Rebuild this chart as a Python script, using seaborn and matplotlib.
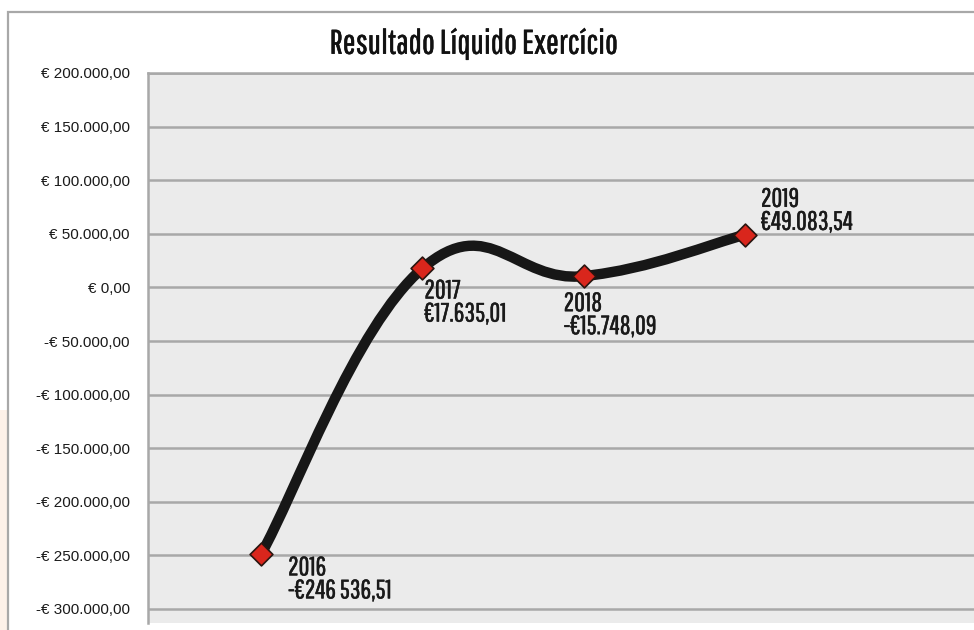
import matplotlib
matplotlib.use("Agg")
import matplotlib.pyplot as plt
import matplotlib.patheffects as pe
from matplotlib.path import Path
from matplotlib.patches import PathPatch, Rectangle
from matplotlib.ticker import FixedLocator, FixedFormatter
import pandas as pd
import seaborn as sns

# values as drawn on the chart, and the labels printed next to them
years = [2016, 2017, 2018, 2019]
plotted = [-249000, 17635, 10500, 49084]
value_labels = ["-€246 536,51", "€17.635,01", "-€15.748,09", "€49.083,54"]

yticks = [-300000, -250000, -200000, -150000, -100000, -50000, 0, 50000, 100000, 150000, 200000]
ytick_labels = ["-€ 300.000,00", "-€ 250.000,00", "-€ 200.000,00", "-€ 150.000,00",
                "-€ 100.000,00", "-€ 50.000,00", "€ 0,00", "€ 50.000,00",
                "€ 100.000,00", "€ 150.000,00", "€ 200.000,00"]

title = "Resultado Líquido Exercício"

df = pd.DataFrame({"ano": years, "valor": plotted})

sns.set_style("white")
plt.rcParams["font.family"] = ["Liberation Sans", "DejaVu Sans"]
cond = ["Pathway Gothic One", "Roboto Condensed", "DejaVu Sans"]

W, H = 974, 630
fig = plt.figure(figsize=(W / 100, H / 100), dpi=100)

# outer chart frame (cropped at right / bottom) and faint peach strip
fig.patches.append(Rectangle((0, 0), 8 / W, 220 / H, transform=fig.transFigure,
                             facecolor="#fdf1e9", edgecolor="none", zorder=0))
fig.patches.append(Rectangle((8 / W, -0.1), 1.2, 1.1 - 12 / H, transform=fig.transFigure,
                             facecolor="white", edgecolor="#a8a8a8", lw=1.6, zorder=0))

ax = fig.add_axes([148 / W, 1 - 623 / H, (990 - 148) / W, (623 - 73) / H])
ax.set_zorder(2)
ax.set_facecolor("#ebebeb")

px_per_year = 161.3
ax.set_xlim(2016 - (261 - 148) / px_per_year, 2016 + (990 - 261) / px_per_year)
ax.set_ylim(200000 - (623 - 73) / 53.6 * 50000, 200000)

ax.yaxis.set_major_locator(FixedLocator(yticks))
ax.yaxis.set_major_formatter(FixedFormatter(ytick_labels))
ax.set_xticks([])
ax.grid(axis="y", color="#a8a8a8", lw=1.8)
ax.set_axisbelow(True)
for s in ["right", "bottom"]:
    ax.spines[s].set_visible(False)
ax.spines["left"].set_color("#a8a8a8")
ax.spines["left"].set_linewidth(1.8)
ax.spines["top"].set_color("#a8a8a8")
ax.spines["top"].set_linewidth(1.8)
ax.tick_params(axis="y", length=5, width=1.5, color="#a8a8a8", pad=8,
               labelsize=11, labelcolor="#1a1a1a")

# smoothed line (Catmull-Rom style bezier through the points)
k = 0.21
pts = list(zip(df["ano"], df["valor"]))
verts = [pts[0]]
codes = [Path.MOVETO]
for i in range(len(pts) - 1):
    p0 = pts[i - 1] if i > 0 else pts[i]
    p1, p2 = pts[i], pts[i + 1]
    p3 = pts[i + 2] if i + 2 < len(pts) else pts[i + 1]
    c1 = (p1[0] + (p2[0] - p0[0]) * k, p1[1] + (p2[1] - p0[1]) * k)
    c2 = (p2[0] - (p3[0] - p1[0]) * k, p2[1] - (p3[1] - p1[1]) * k)
    verts += [c1, c2, p2]
    codes += [Path.CURVE4] * 3
ax.add_patch(PathPatch(Path(verts, codes), facecolor="none", edgecolor="#171717",
                       lw=7.5, capstyle="round", joinstyle="round", zorder=3))

sns.scatterplot(data=df, x="ano", y="valor", marker="D", s=135, color="#d9261c",
                edgecolor="#2a1510", linewidth=1.2, zorder=4, ax=ax, legend=False)
ax.set_xlabel("")
ax.set_ylabel("")

bold = [pe.withStroke(linewidth=0.35, foreground="#1a1a1a")]
offsets = [(27, -1, "top"), (2, -10, "top"), (-20, -15, "top"), (16, 0, "bottom")]
for yr, v, lab, (dx, dy, va) in zip(years, plotted, value_labels, offsets):
    ax.annotate(f"{yr}\n{lab}", (yr, v), xytext=(dx, dy), textcoords="offset pixels",
                ha="left", va=va, fontsize=19, family=cond, color="#1a1a1a",
                linespacing=0.9, zorder=5, path_effects=bold)

fig.text(473 / W, 1 - 44 / H, title, ha="center", va="center", fontsize=24.5,
         family=cond, color="#111111",
         path_effects=[pe.withStroke(linewidth=0.4, foreground="#111111")])

fig.savefig("out.png", dpi=100)
